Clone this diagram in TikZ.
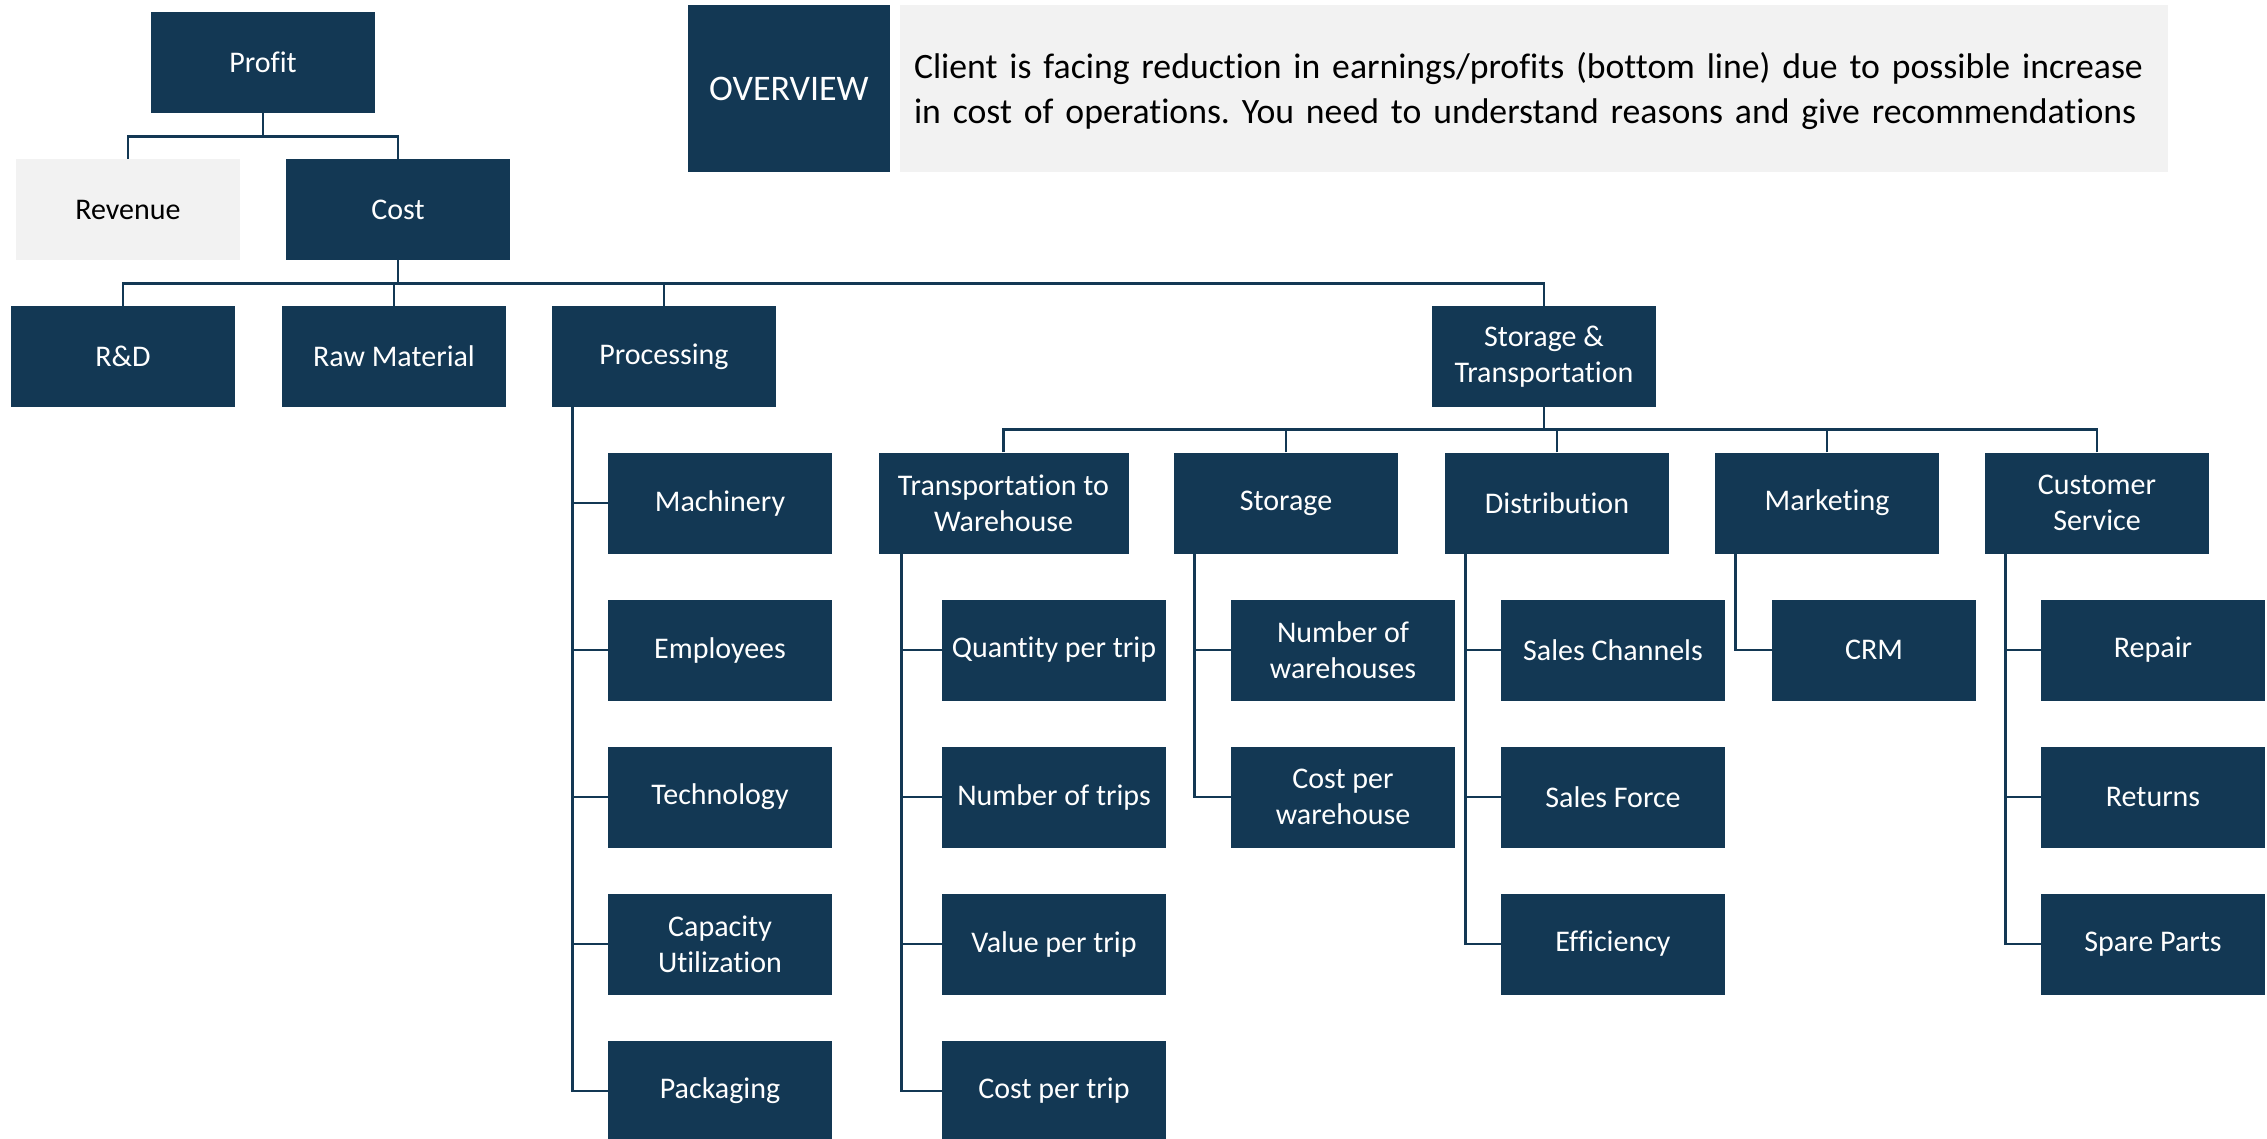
\documentclass[tikz,border=0pt]{standalone}
\usepackage{fontspec}
\setmainfont{Carlito}[Ligatures=NoCommon]
\usetikzlibrary{calc}
\definecolor{navy}{RGB}{19,56,84}
\definecolor{lightgrey}{RGB}{242,242,242}
\frenchspacing
\begin{document}
\begin{tikzpicture}[x=1pt,y=-1pt,
  box/.style={fill=navy,text=white,minimum width=224pt,minimum height=101pt,inner sep=0pt,align=center,font=\fontsize{30}{36}\selectfont},
  conn/.style={draw=navy,line width=2.7pt}]
\useasboundingbox (0,0) rectangle (2267,1138);
\clip (0,0) rectangle (2267,1138);
% top
\node[box] (profit) at (263,62.5) {Profit};
\node[box,fill=lightgrey,text=black] (revenue) at (128,209.5) {Revenue};
\node[box] (cost) at (398,209.5) {Cost};
\node[box,minimum width=202pt,minimum height=167pt,font=\fontsize{36}{44}\selectfont] (ovl) at (789,88.5) {OVERVIEW};
\node[fill=lightgrey,text=black,minimum width=1268pt,minimum height=167pt,inner xsep=14pt,inner ysep=0pt,text width=1240pt,align=left,font=\fontsize{35.7}{45}\selectfont\frenchspacing] (ovt) at (1534,88.5) {\mbox{\rule{0pt}{31pt}Client is facing reduction in earnings/profits (bottom line) due to possible increase}\\\mbox{in cost of operations. You need to understand reasons and give recommendations}};
% level 2
\node[box] (rd) at (123,356.5) {R\&D};
\node[box] (raw) at (394,356.5) {Raw Material};
\node[box] (proc) at (664,356.5) {Processing};
\node[box] (st) at (1544,356.5) {Storage \&\\Transportation};
% level 3
\node[box,minimum width=250pt] (tw) at (1003.5,503) {Transportation to\\Warehouse};
\node[box] (stor) at (1286,503) {Storage};
\node[box] (dist) at (1557,503) {Distribution};
\node[box] (mkt) at (1827,503) {Marketing};
\node[box] (cs) at (2097,503) {Customer\\Service};
% processing children
\node[box] (mach) at (720,503) {Machinery};
\node[box] (emp) at (720,650) {Employees};
\node[box] (tech) at (720,797) {Technology};
\node[box] (cap) at (720,944) {Capacity\\Utilization};
\node[box] (pack) at (720,1091) {Packaging};
% transportation children
\node[box] (q1) at (1054,650) {Quantity per trip};
\node[box] (q2) at (1054,797) {Number of trips};
\node[box] (q3) at (1054,944) {Value per trip};
\node[box] (q4) at (1054,1091) {Cost per trip};
% storage children
\node[box] (nw) at (1343,650) {Number of\\warehouses};
\node[box] (cw) at (1343,797) {Cost per\\warehouse};
% distribution children
\node[box] (sc) at (1613,650) {Sales Channels};
\node[box] (sf) at (1613,797) {Sales Force};
\node[box] (eff) at (1613,944) {Efficiency};
% marketing child
\node[box,minimum width=204pt] (crm) at (1874,650) {CRM};
% customer service children
\node[box] (rep) at (2153,650) {Repair};
\node[box] (ret) at (2153,797) {Returns};
\node[box] (sp) at (2153,944) {Spare Parts};
% connectors
\draw[conn] (profit.south) -- ++(0,23) coordinate (pbus);
\draw[conn] (revenue.north) |- (pbus);
\draw[conn] (cost.north) |- (pbus);
\draw[conn] (cost.south) -- ++(0,23) coordinate (cbus);
\foreach \n in {rd,raw,proc,st} \draw[conn] (\n.north) |- (cbus);
\draw[conn] (st.south) -- ++(0,22) coordinate (sbus);
\foreach \n in {tw,stor,dist,mkt,cs} \draw[conn] (\n.north) |- (sbus);
% trunks
\coordinate (ptr) at ([xshift=21pt]proc.south west);
\draw[conn] (ptr) |- (pack.west);
\foreach \n in {mach,emp,tech,cap} \draw[conn] (ptr |- \n.west) -- (\n.west);
\coordinate (ttr) at ([xshift=23pt]tw.south west);
\draw[conn] (ttr) |- (q4.west);
\foreach \n in {q1,q2,q3} \draw[conn] (ttr |- \n.west) -- (\n.west);
\coordinate (str) at ([xshift=21pt]stor.south west);
\draw[conn] (str) |- (cw.west);
\draw[conn] (str |- nw.west) -- (nw.west);
\coordinate (dtr) at ([xshift=21pt]dist.south west);
\draw[conn] (dtr) |- (eff.west);
\foreach \n in {sc,sf} \draw[conn] (dtr |- \n.west) -- (\n.west);
\coordinate (mtr) at ([xshift=21pt]mkt.south west);
\draw[conn] (mtr) |- (crm.west);
\coordinate (ctr) at ([xshift=21pt]cs.south west);
\draw[conn] (ctr) |- (sp.west);
\foreach \n in {rep,ret} \draw[conn] (ctr |- \n.west) -- (\n.west);
\end{tikzpicture}
\end{document}
